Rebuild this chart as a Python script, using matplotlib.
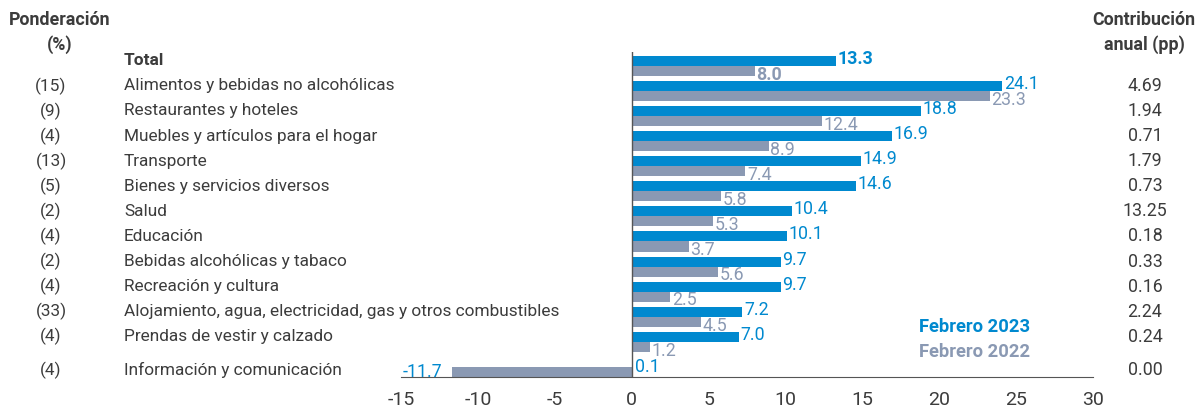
import numpy as np
import matplotlib.pyplot as plt

plt.rcParams['font.family'] = ['Roboto', 'DejaVu Sans']
plt.rcParams['axes.unicode_minus'] = False

categorias = ['Total', 'Alimentos y bebidas no alcohólicas', 'Restaurantes y hoteles',
              'Muebles y artículos para el hogar', 'Transporte', 'Bienes y servicios diversos',
              'Salud', 'Educación', 'Bebidas alcohólicas y tabaco', 'Recreación y cultura',
              'Alojamiento, agua, electricidad, gas y otros combustibles',
              'Prendas de vestir y calzado', 'Información y comunicación']
ponderacion = ['', '(15)', '(9)', '(4)', '(13)', '(5)', '(2)', '(4)', '(2)', '(4)', '(33)', '(4)', '(4)']
feb_2023 = [13.3, 24.1, 18.8, 16.9, 14.9, 14.6, 10.4, 10.1, 9.7, 9.7, 7.2, 7.0, 0.1]
feb_2022 = [8.0, 23.3, 12.4, 8.9, 7.4, 5.8, 5.3, 3.7, 5.6, 2.5, 4.5, 1.2, -11.7]
contribucion = ['', '4.69', '1.94', '0.71', '1.79', '0.73', '13.25', '0.18', '0.33', '0.16',
                '2.24', '0.24', '0.00']

azul = '#0089cf'
gris = '#8a99b3'
texto = '#3c3c3c'

fig = plt.figure(figsize=(12.03, 4.11), dpi=100)
ax = fig.add_axes([401 / 1203, 1 - 377 / 411, (1093 - 401) / 1203, (377 - 52) / 411])

y = np.arange(len(categorias))
h = 0.4
ax.barh(y - h / 2, feb_2023, height=h, color=azul)
ax.barh(y + h / 2, feb_2022, height=h, color=gris)

ax.set_xlim(-15, 30)
ax.set_ylim(12.4, -0.55)
ax.axvline(0, color='#555555', lw=1)

# etiquetas de valores
for i in range(len(categorias)):
    peso = 'bold' if i == 0 else 'normal'
    dy = 0.2 if i == 12 else -0.08
    ax.text(feb_2023[i] + 0.1, i - h / 2 + dy, f'{feb_2023[i]:.1f}', color=azul, fontsize=12.8,
            va='center', ha='left', fontweight=peso)
    v = feb_2022[i]
    if v < 0:
        ax.text(v - 0.6, i + h / 2, f'{v:.1f}', color=azul, fontsize=12.8,
                va='center', ha='right')
    else:
        ax.text(v + 0.1, i + h / 2 + 0.15, f'{v:.1f}', color=gris, fontsize=12.8,
                va='center', ha='left', fontweight=peso)

# columnas de texto
for i, cat in enumerate(categorias):
    yy = i - 0.2 if i < 12 else i + 0.12
    peso = 'bold' if i == 0 else 'normal'
    ax.annotate(cat, xy=(124 / 1203, yy), xycoords=('figure fraction', 'data'),
                fontsize=12.4, color=texto, va='center', ha='left', fontweight=peso,
                annotation_clip=False)
    ax.annotate(ponderacion[i], xy=(51 / 1203, yy), xycoords=('figure fraction', 'data'),
                fontsize=12.4, color=texto, va='center', ha='center', annotation_clip=False)
    ax.annotate(contribucion[i], xy=(1145 / 1203, yy), xycoords=('figure fraction', 'data'),
                fontsize=12.8, color=texto, va='center', ha='center', annotation_clip=False)

fig.text(60 / 1203, 1 - 20 / 411, 'Ponderación', fontsize=12.8, fontweight='bold',
         color=texto, ha='center', va='center')
fig.text(60 / 1203, 1 - 45 / 411, '(%)', fontsize=12.8, fontweight='bold',
         color=texto, ha='center', va='center')
fig.text(1144 / 1203, 1 - 20 / 411, 'Contribución', fontsize=12.8, fontweight='bold',
         color=texto, ha='center', va='center')
fig.text(1144 / 1203, 1 - 45 / 411, 'anual (pp)', fontsize=12.8, fontweight='bold',
         color=texto, ha='center', va='center')

fig.text(975 / 1203, 1 - 327 / 411, 'Febrero 2023', fontsize=13.2, fontweight='bold',
         color=azul, ha='center', va='center')
fig.text(975 / 1203, 1 - 352 / 411, 'Febrero 2022', fontsize=13.2, fontweight='bold',
         color=gris, ha='center', va='center')

for s in ['top', 'right', 'left']:
    ax.spines[s].set_visible(False)
ax.spines['bottom'].set_color('#555555')
ax.set_yticks([])
ax.set_xticks(np.arange(-15, 31, 5))
ax.tick_params(axis='x', length=0, labelsize=14, labelcolor=texto, pad=10)

plt.savefig('out.png', dpi=100)
